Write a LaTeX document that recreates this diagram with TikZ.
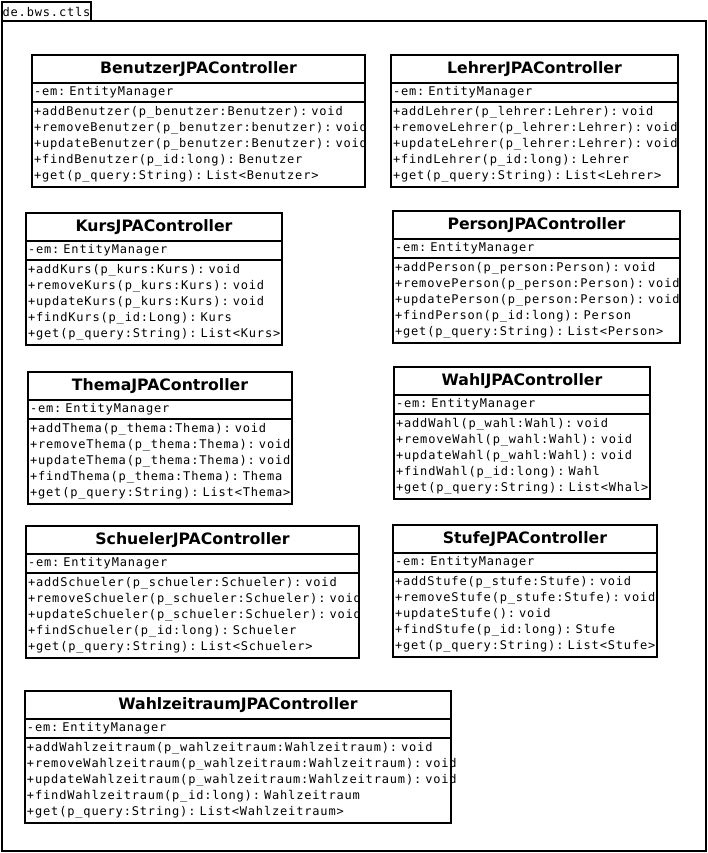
\documentclass[tikz,border=0pt]{standalone}
\usepackage{fontspec}
\setsansfont{DejaVu Sans}
\setmonofont[LetterSpace=7,WordSpace=1.12]{DejaVu Sans Mono}
\usepackage{tikz}
\usetikzlibrary{shapes}
\usetikzlibrary{positioning}
\tikzset{
	package/.style={draw,line width=1.4pt,inner sep=0.5pt,outer sep=0pt,anchor=north west,font=\ttfamily\fontsize{12}{16}\selectfont},
	class title/.style={draw,line width=1.4pt,minimum width=#1,minimum height=28pt,inner sep=0pt,outer sep=0pt,
		font=\sffamily\bfseries\fontsize{15.7}{18}\selectfont},
	class attr/.style={draw,line width=1.4pt,text width=#1-4pt,minimum height=19pt,inner xsep=2pt,inner ysep=0pt,
		outer sep=0pt,align=left,font=\ttfamily\fontsize{12}{16}\selectfont},
	class ops/.style={class attr=#1,minimum height=85pt,
		execute at begin node={\hyphenpenalty=10000 \exhyphenpenalty=10000 }}
}

\begin{document}
\begin{tikzpicture}[x=1pt,y=-1pt]
	\useasboundingbox (0,0) rectangle (708,853);
	\node [package,minimum width=89pt,minimum height=19pt] (pkgtab) at (2,2) {de.bws.ctls};
	\node [package,minimum width=704pt,minimum height=830pt] (pkg) at (pkgtab.south west) {};

	\node [class title=333pt,anchor=north west] (benutzer) at (32,55) {BenutzerJPAController};
	\node [class attr=333pt,below=0pt of benutzer] (benutzer-em) {-em:~EntityManager};
	\node [class ops=333pt,below=0pt of benutzer-em] (benutzer-ops) {+addBenutzer(p\_benutzer:Benutzer):~void\\
		+removeBenutzer(p\_benutzer:benutzer):~void\\
		+updateBenutzer(p\_benutzer:Benutzer):~void\\
		+findBenutzer(p\_id:long):~Benutzer\\
		+get(p\_query:String):~List<Benutzer>};

	\node [class title=287pt,anchor=north west] (lehrer) at (391,55) {LehrerJPAController};
	\node [class attr=287pt,below=0pt of lehrer] (lehrer-em) {-em:~EntityManager};
	\node [class ops=287pt,below=0pt of lehrer-em] (lehrer-ops) {+addLehrer(p\_lehrer:Lehrer):~void\\
		+removeLehrer(p\_lehrer:Lehrer):~void\\
		+updateLehrer(p\_lehrer:Lehrer):~void\\
		+findLehrer(p\_id:long):~Lehrer\\
		+get(p\_query:String):~List<Lehrer>};

	\node [class title=256pt,anchor=north west] (kurs) at (26,213) {KursJPAController};
	\node [class attr=256pt,below=0pt of kurs] (kurs-em) {-em:~EntityManager};
	\node [class ops=256pt,below=0pt of kurs-em] (kurs-ops) {+addKurs(p\_kurs:Kurs):~void\\
		+removeKurs(p\_kurs:Kurs):~void\\
		+updateKurs(p\_kurs:Kurs):~void\\
		+findKurs(p\_id:Long):~Kurs\\
		+get(p\_query:String):~List<Kurs>};

	\node [class title=287pt,anchor=north west] (person) at (393,211) {PersonJPAController};
	\node [class attr=287pt,below=0pt of person] (person-em) {-em:~EntityManager};
	\node [class ops=287pt,below=0pt of person-em] (person-ops) {+addPerson(p\_person:Person):~void\\
		+removePerson(p\_person:Person):~void\\
		+updatePerson(p\_person:Person):~void\\
		+findPerson(p\_id:long):~Person\\
		+get(p\_query:String):~List<Person>};

	\node [class title=264pt,anchor=north west] (thema) at (28,372) {ThemaJPAController};
	\node [class attr=264pt,below=0pt of thema] (thema-em) {-em:~EntityManager};
	\node [class ops=264pt,below=0pt of thema-em] (thema-ops) {+addThema(p\_thema:Thema):~void\\
		+removeThema(p\_thema:Thema):~void\\
		+updateThema(p\_thema:Thema):~void\\
		+findThema(p\_thema:Thema):~Thema\\
		+get(p\_query:String):~List<Thema>};

	\node [class title=256pt,anchor=north west] (wahl) at (394,367) {WahlJPAController};
	\node [class attr=256pt,below=0pt of wahl] (wahl-em) {-em:~EntityManager};
	\node [class ops=256pt,below=0pt of wahl-em] (wahl-ops) {+addWahl(p\_wahl:Wahl):~void\\
		+removeWahl(p\_wahl:Wahl):~void\\
		+updateWahl(p\_wahl:Wahl):~void\\
		+findWahl(p\_id:long):~Wahl\\
		+get(p\_query:String):~List<Whal>};

	\node [class title=333pt,anchor=north west] (schueler) at (26,526) {SchuelerJPAController};
	\node [class attr=333pt,below=0pt of schueler] (schueler-em) {-em:~EntityManager};
	\node [class ops=333pt,below=0pt of schueler-em] (schueler-ops) {+addSchueler(p\_schueler:Schueler):~void\\
		+removeSchueler(p\_schueler:Schueler):~void\\
		+updateSchueler(p\_schueler:Schueler):~void\\
		+findSchueler(p\_id:long):~Schueler\\
		+get(p\_query:String):~List<Schueler>};

	\node [class title=264pt,anchor=north west] (stufe) at (393,525) {StufeJPAController};
	\node [class attr=264pt,below=0pt of stufe] (stufe-em) {-em:~EntityManager};
	\node [class ops=264pt,below=0pt of stufe-em] (stufe-ops) {+addStufe(p\_stufe:Stufe):~void\\
		+removeStufe(p\_stufe:Stufe):~void\\
		+updateStufe():~void\\
		+findStufe(p\_id:long):~Stufe\\
		+get(p\_query:String):~List<Stufe>};

	\node [class title=426pt,anchor=north west] (wahlzeitraum) at (25,691) {WahlzeitraumJPAController};
	\node [class attr=426pt,below=0pt of wahlzeitraum] (wahlzeitraum-em) {-em:~EntityManager};
	\node [class ops=426pt,below=0pt of wahlzeitraum-em] (wahlzeitraum-ops) {+addWahlzeitraum(p\_wahlzeitraum:Wahlzeitraum):~void\\
		+removeWahlzeitraum(p\_wahlzeitraum:Wahlzeitraum):~void\\
		+updateWahlzeitraum(p\_wahlzeitraum:Wahlzeitraum):~void\\
		+findWahlzeitraum(p\_id:long):~Wahlzeitraum\\
		+get(p\_query:String):~List<Wahlzeitraum>};
\end{tikzpicture}
\end{document}
